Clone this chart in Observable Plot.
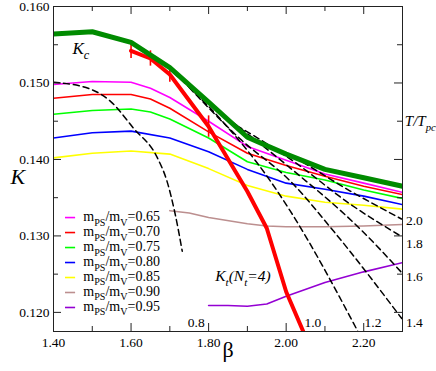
<!DOCTYPE html>
<html><head><meta charset="utf-8">
<script src="https://cdn.jsdelivr.net/npm/d3@7"></script>
<script src="https://cdn.jsdelivr.net/npm/@observablehq/plot@0.6"></script>
<style>
body{margin:0;background:#fff}
</style>
</head><body><div id="chart"></div>
<script>
// ---------- data ----------
const massRatios = ["0.65","0.70","0.75","0.80","0.85","0.90","0.95"];
const massColors = ["#ff00ff","#ff0000","#00ff00","#0000ff","#ffff00","#bc8f8f","#9400d3"];

const beta065 = [1.40,1.50,1.60,1.65,1.70,1.80,1.90,2.00,2.10,2.20,2.30];
const K065    = [.1498,.1502,.1501,.1493,.1481,.1450,.1417,.1399,.1381,.1369,.1357];
const beta070 = [1.40,1.50,1.60,1.65,1.70,1.80,1.90,2.00,2.10,2.20,2.30];
const K070    = [.1480,.1485,.1485,.1479,.1467,.1436,.1408,.1392,.1378,.1365,.1354];
const beta075 = [1.40,1.50,1.60,1.65,1.70,1.80,1.90,2.00,2.10,2.20,2.30];
const K075    = [.1459,.1464,.1466,.1462,.1453,.1428,.1397,.1383,.1373,.1360,.1349];
const beta080 = [1.40,1.50,1.60,1.70,1.80,1.90,2.00,2.10,2.20,2.30];
const K080    = [.1428,.1435,.1437,.1428,.1410,.1387,.1369,.1361,.1352,.1341];
const beta085 = [1.40,1.50,1.60,1.70,1.80,1.90,2.00,2.10,2.20,2.30];
const K085    = [.1402,.1408,.1411,.1407,.1388,.1366,.1352,.1344,.1340,.1335];
const beta090 = [1.70,1.75,1.80,1.90,1.95,2.00,2.10,2.20,2.30];
const K090    = [.1333,.1330,.1324,.1316,.1313,.1312,.1312,.1313,.1315];
const beta095 = [1.80,1.85,1.90,1.95,2.00,2.10,2.20,2.30];
const K095    = [.1209,.1209,.1208,.1211,.1221,.1239,.1253,.1265];

const betaKc = [1.40,1.50,1.60,1.70,1.80,1.90,2.00,2.10,2.20,2.30];
const Kc     = [.1564,.1567,.1553,.1520,.1475,.1429,.1407,.1387,.1376,.1365];

const betaKt = [1.60,1.65,1.70,1.80,1.90,1.95,2.00,2.05];
const Kt     = [.1542,.1532,.1511,.1443,.1358,.1310,.1227,.1168];
const KtErr  = [.0010,.0010,.0010,.0014,null,null,null,null];

// lines of constant T/Tpc
const betaT08 = [1.40,1.495,1.547,1.606,1.668,1.693,1.714,1.732];
const KT08    = [.1501,.1492,.1476,.1441,.1402,.1371,.1328,.1280];
const betaT12 = [1.709,1.830,1.959,2.010,2.185];
const KT12    = [.1514,.1453,.1372,.1333,.1175];
const betaT14 = [1.750,1.881,2.010,2.121,2.298];
const KT14    = [.1494,.1427,.1372,.1307,.1192];
const betaT16 = [1.799,1.907,2.010,2.195,2.298];
const KT16    = [.1473,.1431,.1389,.1307,.1252];
const betaT18 = [1.850,2.018,2.164,2.298];
const KT18    = [.1451,.1398,.1342,.1299];
const betaT20 = [1.902,2.010,2.164,2.298];
const KT20    = [.1428,.1405,.1359,.1322];

const xMajor = [1.4,1.6,1.8,2.0,2.2];
const xMinor = [1.5,1.7,1.9,2.1];
const yMajor = [0.12,0.13,0.14,0.15,0.16];
const yMinor = [0.125,0.135,0.145,0.155];

// ---------- build tables ----------
const zip = (b, k) => b.map((x, i) => ({beta: x, K: k[i]}));
const massSeries = [
  zip(beta065, K065), zip(beta070, K070), zip(beta075, K075), zip(beta080, K080),
  zip(beta085, K085), zip(beta090, K090), zip(beta095, K095)
];
const kcData = zip(betaKc, Kc);
const ktData = betaKt.map((b, i) => ({beta: b, K: Kt[i], err: KtErr[i]}));
const ktErrData = ktData.filter(d => d.err != null);
const tLines = [zip(betaT08, KT08), zip(betaT12, KT12), zip(betaT14, KT14),
                zip(betaT16, KT16), zip(betaT18, KT18), zip(betaT20, KT20)];

// layout
const W = 436, H = 371, mL = 53, mR = 34, mT = 6, mB = 40;
const pw = W - mL - mR, ph = H - mT - mB;

// legend placement (data coordinates)
const legX1 = 1.431, legX2 = 1.457, legXT = 1.477, legY0 = 0.1324, legStep = 0.00196;
const legendRows = massRatios.map((m, i) => ({
  label: `m_{PS}/m_{V}=${m}`, color: massColors[i], y: legY0 - i * legStep
}));

// annotations (data coordinates)
const rightLabels = [
  {t: "2.0", beta: 2.309, K: 0.1320},
  {t: "1.8", beta: 2.309, K: 0.1290},
  {t: "1.6", beta: 2.309, K: 0.1247},
  {t: "1.4", beta: 2.309, K: 0.1186}
];
const bottomLabels = [
  {t: "0.8", beta: 1.768, K: 0.1186},
  {t: "1.0", beta: 2.069, K: 0.1186},
  {t: "1.2", beta: 2.224, K: 0.1186}
];

const marks = [
  ...massSeries.map((s, i) => Plot.line(s, {x: "beta", y: "K", stroke: massColors[i], strokeWidth: 1.6, clip: true})),
  ...tLines.map(s => Plot.line(s, {x: "beta", y: "K", stroke: "black", strokeWidth: 1.5, strokeDasharray: "6,4", curve: "monotone-x", clip: true})),
  Plot.line(ktData, {x: "beta", y: "K", stroke: "#ff0000", strokeWidth: 4, clip: true}),
  Plot.ruleX(ktErrData, {x: "beta", y1: d => d.K - d.err, y2: d => d.K + d.err, stroke: "#ff0000", strokeWidth: 1.6}),
  Plot.line(kcData, {x: "beta", y: "K", stroke: "#008b00", strokeWidth: 5, clip: true}),
  // legend
  Plot.ruleY(legendRows, {y: "y", x1: legX1, x2: legX2, stroke: "color", strokeWidth: 1.6}),
  Plot.text(legendRows, {x: legXT, y: "y", text: "label", textAnchor: "start", fontSize: 14, dy: -1}),
  // annotations
  Plot.text(rightLabels, {x: "beta", y: "K", text: "t", textAnchor: "start", fontSize: 13.5}),
  Plot.text(bottomLabels, {x: "beta", y: "K", text: "t", textAnchor: "middle", fontSize: 13.5}),
  Plot.text(["K_{c}"], {x: 1.449, y: 0.1545, text: d => d, textAnchor: "start", fontSize: 17, fontStyle: "italic"}),
  Plot.text(["T/T_{pc}"], {x: 2.306, y: 0.1450, text: d => d, textAnchor: "start", fontSize: 15, fontStyle: "italic"}),
  Plot.text(["K_{t}(N_{t}=4)"], {x: 1.817, y: 0.1248, text: d => d, textAnchor: "start", fontSize: 15.5, fontStyle: "italic"}),
  // frame & ticks
  Plot.frame({stroke: "#222", strokeWidth: 1}),
  Plot.tickX(xMajor, {x: d => d, insetTop: ph - 8, stroke: "#222"}),
  Plot.tickX(xMinor, {x: d => d, insetTop: ph - 5, stroke: "#222"}),
  Plot.tickX(xMajor, {x: d => d, insetBottom: ph - 8, stroke: "#222"}),
  Plot.tickX(xMinor, {x: d => d, insetBottom: ph - 5, stroke: "#222"}),
  Plot.tickY(yMajor, {y: d => d, insetRight: pw - 8, stroke: "#222"}),
  Plot.tickY(yMinor, {y: d => d, insetRight: pw - 5, stroke: "#222"}),
  Plot.tickY(yMajor, {y: d => d, insetLeft: pw - 8, stroke: "#222"}),
  Plot.tickY(yMinor, {y: d => d, insetLeft: pw - 5, stroke: "#222"}),
  Plot.axisX(xMajor, {tickSize: 0, tickPadding: 6, tickFormat: d3.format(".2f"), label: null, fontSize: 13.5}),
  Plot.axisY(yMajor, {tickSize: 0, tickPadding: 4, tickFormat: d3.format(".3f"), label: null, fontSize: 13.5}),
  Plot.text(["K"], {frameAnchor: "left", dx: -43, dy: 8, text: d => d, fontSize: 22, fontStyle: "italic"}),
  Plot.text(["β"], {frameAnchor: "bottom", dy: 25, text: d => d, fontSize: 22})
];

const chart = Plot.plot({
  width: W, height: H,
  marginLeft: mL, marginRight: mR, marginTop: mT, marginBottom: mB,
  x: {domain: [1.4, 2.3]},
  y: {domain: [0.1175, 0.160]},
  style: {fontFamily: "Liberation Serif", fontSize: "13px", background: "white", color: "black", overflow: "visible"},
  marks
});

// subscript markup  _{...}
d3.select(chart).selectAll("text").each(function () {
  const s = this.textContent;
  if (!s.includes("_{")) return;
  let el = this, fs = NaN;
  while (el && isNaN(fs)) { fs = parseFloat(el.getAttribute && el.getAttribute("font-size")); el = el.parentNode; }
  if (isNaN(fs)) fs = 13;
  const parts = s.split(/(_\{[^}]*\})/).filter(p => p.length);
  while (this.firstChild) this.removeChild(this.firstChild);
  const shift = fs * 0.32;
  let down = false;
  for (const p of parts) {
    const ts = document.createElementNS("http://www.w3.org/2000/svg", "tspan");
    if (p.startsWith("_{")) {
      ts.textContent = p.slice(2, -1);
      ts.setAttribute("font-size", (fs * 0.72).toFixed(1));
      ts.setAttribute("dy", shift.toFixed(1));
      down = true;
    } else {
      ts.textContent = p;
      if (down) { ts.setAttribute("dy", (-shift).toFixed(1)); down = false; }
    }
    this.appendChild(ts);
  }
});

d3.select(chart).selectAll("text").attr("font-family", "Liberation Serif");

document.getElementById("chart").appendChild(chart);
</script>
</body></html>
